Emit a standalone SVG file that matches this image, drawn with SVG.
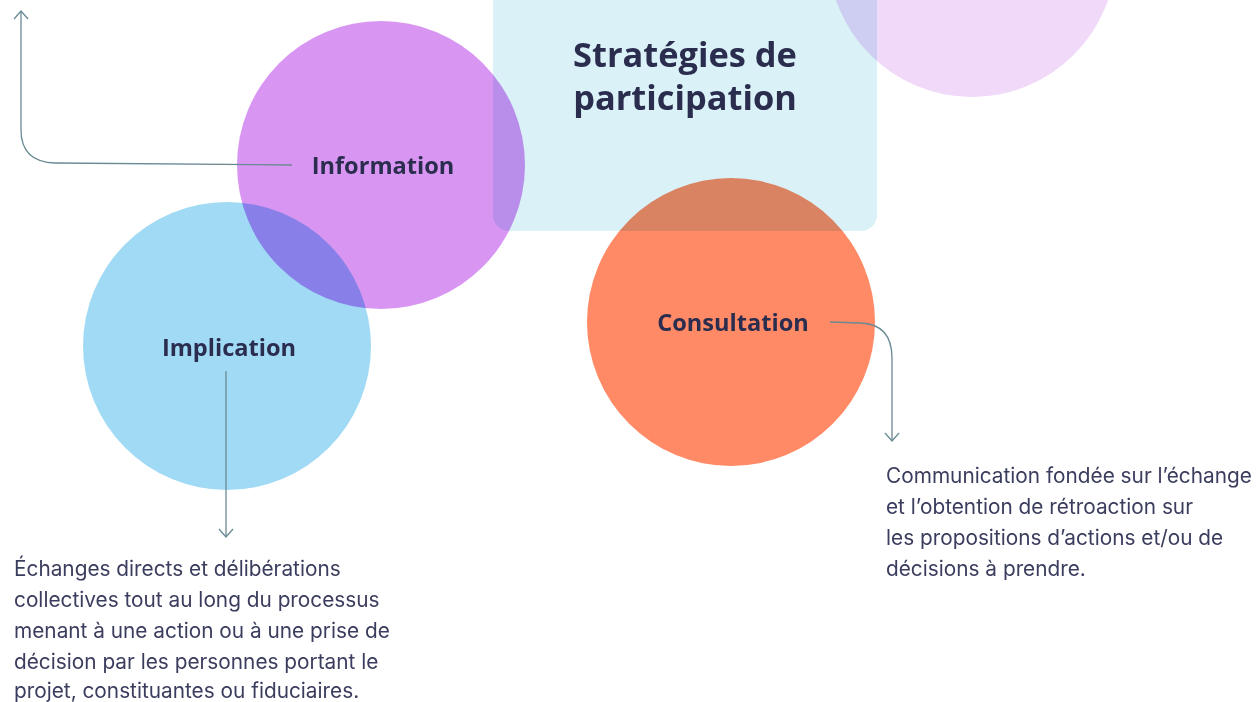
<svg xmlns="http://www.w3.org/2000/svg" width="1256" height="702" viewBox="0 0 1256 702">
<style>
.blend{mix-blend-mode:multiply}
.head{font-family:"Open Sans","Liberation Sans",sans-serif;font-weight:700;fill:#2B2D4F;font-variant-ligatures:none}
.lbl{font-family:"Open Sans","Liberation Sans",sans-serif;font-weight:700;font-size:23.6px;fill:#2B2D4F;text-anchor:middle;font-variant-ligatures:none}
.desc{font-family:"Inter","Liberation Sans",sans-serif;font-size:20.8px;fill:#3B3D5E}
.conn{fill:none;stroke:#6A8A94;stroke-width:1.3}
</style>
<defs>
<marker id="arr" viewBox="-10 -10 20 20" markerWidth="20" markerHeight="20" refX="0" refY="0" orient="auto" markerUnits="userSpaceOnUse">
<path d="M-8,-7 L0,0 L-8,7" fill="none" stroke="#6A8A94" stroke-width="1.3"/>
</marker>
</defs>
<rect width="1256" height="702" fill="#FFFFFF"/>
<g id="title">
<rect x="493" y="-30" width="384" height="261" rx="16" fill="#DAF2F7"/>
<text class="head" font-size="34.4" x="685" y="67" text-anchor="middle">Stratégies de</text>
<text class="head" font-size="34.4" x="685" y="110" text-anchor="middle">participation</text>
</g>
<g id="deco">
<circle class="blend" cx="972" cy="-47" r="144" fill="#F0D9F9"/>
</g>
<g id="information">
<circle class="blend" cx="381" cy="165" r="144" fill="#D896F2"/>
</g>
<g id="implication">
<circle class="blend" cx="227" cy="346" r="144" fill="#A1DAF5"/>
</g>
<g id="consultation">
<circle class="blend" cx="731" cy="322" r="144" fill="#FF8A65"/>
</g>
<g id="labels">
<text class="lbl" x="383" y="174">Information</text>
<text class="lbl" x="229" y="356">Implication</text>
<text class="lbl" x="733" y="331">Consultation</text>
</g>
<g id="connectors">
<path class="conn" d="M292,165 L55,163 Q21,162 21,130 L21,11" marker-end="url(#arr)"/>
<path class="conn" d="M226,371 L226,537" marker-end="url(#arr)"/>
<path class="conn" d="M830,322 L860,323 Q892,324 892,358 L892,441" marker-end="url(#arr)"/>
</g>
<g id="desc-consultation">
<text class="desc" x="886" y="483">Communication fondée sur l’échange</text>
<text class="desc" x="886" y="514">et l’obtention de rétroaction sur</text>
<text class="desc" x="886" y="545">les propositions d’actions et/ou de</text>
<text class="desc" x="886" y="576">décisions à prendre.</text>
</g>
<g id="desc-implication">
<text class="desc" x="14" y="576">Échanges directs et délibérations</text>
<text class="desc" x="14" y="607">collectives tout au long du processus</text>
<text class="desc" x="14" y="638">menant à une action ou à une prise de</text>
<text class="desc" x="14" y="669">décision par les personnes portant le</text>
<text class="desc" x="14" y="698">projet, constituantes ou fiduciaires.</text>
</g>
</svg>
